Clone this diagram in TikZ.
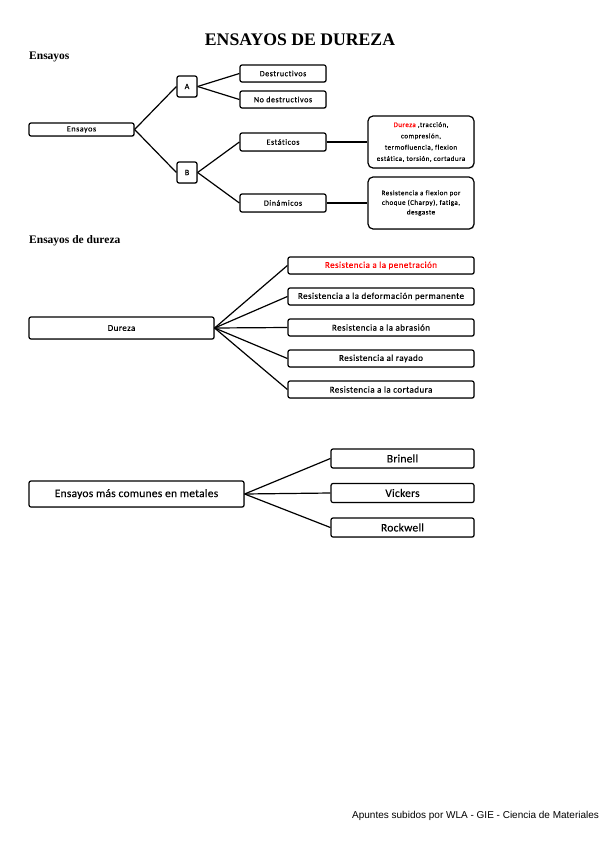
\documentclass[tikz,border=0pt]{standalone}
\usepackage{fontspec}
\setmainfont{Liberation Serif}
\newfontfamily\calA[LetterSpace=7,FakeBold=0.3,Ligatures=NoCommon]{Carlito}
\newfontfamily\calB[LetterSpace=5,FakeBold=0.25,Ligatures=NoCommon]{Carlito}
\newfontfamily\calC[LetterSpace=2,FakeBold=0.15,Ligatures=NoCommon]{Carlito}
\newfontfamily\arialf{Liberation Sans}
\usetikzlibrary{shadows}
\begin{document}
\begin{tikzpicture}[x=1pt,y=-1pt,
  bx/.style={draw, line width=1.2pt, rounded corners=2pt, inner sep=0pt, align=center, fill=white,
    drop shadow={shadow xshift=0.7pt, shadow yshift=-0.7pt, fill=black!45, opacity=0.6}},
  bigbx/.style={bx, rounded corners=5pt},
  sA/.style={font=\calA\fontsize{8}{9.5}\selectfont},
  sB/.style={font=\calB\fontsize{9}{11}\selectfont},
  sC/.style={font=\calC\fontsize{11.5}{13}\selectfont},
  ln/.style={line width=1.2pt},
  head/.style={anchor=base west, inner sep=0pt, font=\bfseries\fontsize{11.5}{13}\selectfont}
]
\useasboundingbox (0,0) rectangle (599,848);

% title and headings
\node[anchor=base, inner sep=0pt, font=\bfseries\fontsize{17.7}{20}\selectfont] (title) at (300,46) {ENSAYOS DE DUREZA};
\node[head] (h1) at (29,60) {Ensayos};
\node[head] (h2) at (29,243) {Ensayos de dureza};

% section 1
\node[bx, sA, minimum width=105pt, minimum height=13pt] (ens) at (81.5,129.5) {Ensayos};
\node[bx, sA, minimum width=20pt, minimum height=21pt] (A) at (187,86.5) {A};
\node[bx, sA, minimum width=20pt, minimum height=21pt] (B) at (187,172.5) {B};
\node[bx, sA, minimum width=86pt, minimum height=17pt] (des) at (283,73.5) {Destructivos};
\node[bx, sA, minimum width=86pt, minimum height=17pt] (nodes) at (283,99.5) {No destructivos};
\node[bx, sA, minimum width=86pt, minimum height=18pt] (est) at (283,142) {Estáticos};
\node[bx, sA, minimum width=86pt, minimum height=18pt] (din) at (283,203) {Dinámicos};
\node[bigbx, font=\calA\fontsize{7}{11.3}\selectfont, minimum width=106pt, minimum height=52pt] (dur) at (421,142)
  {\textcolor{red}{Dureza} ,tracción,\\ compresión,\\ termofluencia, flexion\\ estática, torsión, cortadura};
\node[bigbx, font=\calA\fontsize{7}{9.6}\selectfont, minimum width=106pt, minimum height=52pt] (flex) at (421,203)
  {Resistencia a flexion por\\ choque (Charpy), fatiga,\\ desgaste};

\draw[ln] (ens.east) -- (A.west);
\draw[ln] (ens.east) -- (B.west);
\draw[ln] (A.east) -- (des.west);
\draw[ln] (A.east) -- (nodes.west);
\draw[ln] (B.east) -- (est.west);
\draw[ln] (B.east) -- (din.west);
\draw[ln] (est.east) -- (dur.west);
\draw[ln] (din.east) -- (flex.west);

% section 2
\node[bx, sB, minimum width=185pt, minimum height=22pt] (dz) at (121.5,328) {Dureza};
\node[bx, sB, minimum width=186pt, minimum height=17pt, text=red] (r1) at (381,265.5) {Resistencia a la penetración};
\node[bx, sB, minimum width=186pt, minimum height=17pt] (r2) at (381,296.5) {Resistencia a la deformación permanente};
\node[bx, sB, minimum width=186pt, minimum height=17pt] (r3) at (381,327.5) {Resistencia a la abrasión};
\node[bx, sB, minimum width=186pt, minimum height=17pt] (r4) at (381,358.5) {Resistencia al rayado};
\node[bx, sB, minimum width=186pt, minimum height=17pt] (r5) at (381,389.5) {Resistencia a la cortadura};
\foreach \r in {r1,r2,r3,r4,r5} \draw[ln] (dz.east) -- (\r.west);

% section 3
\node[bx, sC, minimum width=215pt, minimum height=26pt] (em) at (136.5,494) {Ensayos más comunes en metales};
\node[bx, sC, minimum width=143pt, minimum height=19pt] (b1) at (402.5,458.5) {Brinell};
\node[bx, sC, minimum width=143pt, minimum height=19pt] (b2) at (402.5,493) {Vickers};
\node[bx, sC, minimum width=143pt, minimum height=19pt] (b3) at (402.5,527.5) {Rockwell};
\foreach \b in {b1,b2,b3} \draw[ln] (em.east) -- (\b.west);

% footer
\node[anchor=base west, inner sep=0pt, font=\arialf\fontsize{10}{12}\selectfont] (foot) at (352,818) {Apuntes subidos por WLA - GIE - Ciencia de Materiales};
\end{tikzpicture}
\end{document}
